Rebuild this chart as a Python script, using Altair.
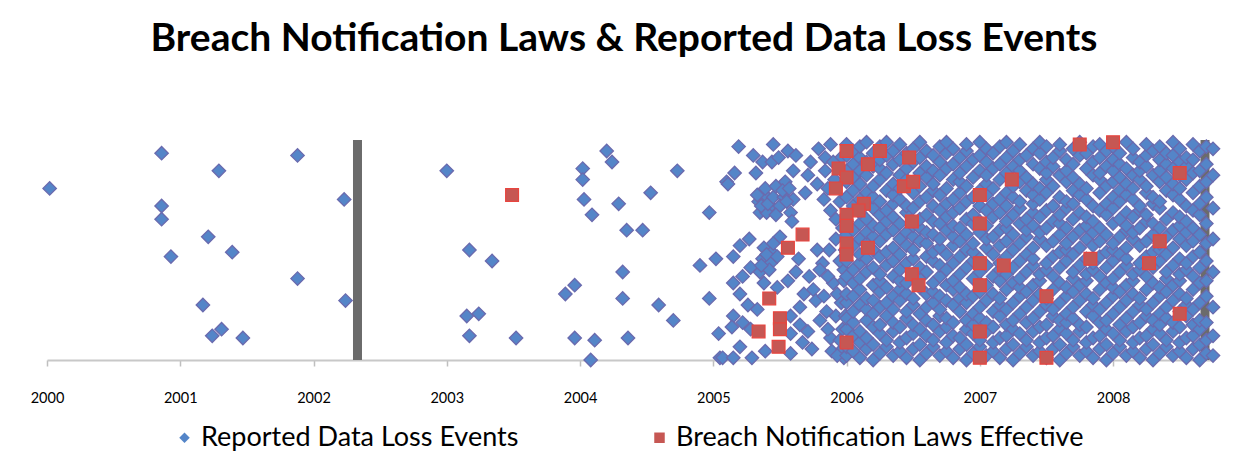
import altair as alt
import pandas as pd

TITLE = "Breach Notification Laws & Reported Data Loss Events"
SERIES = ["Reported Data Loss Events", "Breach Notification Laws Effective"]
YEAR_TICKS = [2000, 2001, 2002, 2003, 2004, 2005, 2006, 2007, 2008]

# Reported data loss events, 2000-2005 (year, relative height 0-100)
early_events = [
    (2000.02, 78), (2000.86, 94), (2001.88, 93), (2001.29, 86), (2002.23, 73),
    (2000.86, 70), (2000.86, 64), (2001.21, 56), (2001.39, 49), (2000.93, 47),
    (2001.88, 37), (2001.17, 25), (2002.24, 27), (2001.31, 14), (2001.24, 11),
    (2001.47, 10),
    (2003.00, 86), (2004.02, 87), (2004.02, 82), (2004.20, 95), (2004.24, 90),
    (2004.73, 86), (2004.03, 73), (2004.09, 66), (2004.29, 71), (2004.53, 76),
    (2004.35, 59), (2004.47, 59), (2004.97, 67), (2003.17, 50), (2003.34, 45),
    (2004.32, 40), (2004.90, 43), (2005.02, 46), (2003.96, 34), (2003.89, 30),
    (2004.32, 28), (2004.97, 28), (2004.59, 25), (2004.70, 18), (2003.15, 20),
    (2003.24, 21), (2003.17, 11), (2003.52, 10), (2003.96, 10), (2004.11, 9),
    (2004.36, 10), (2004.08, 0), (2005.04, 12), (2005.05, 1), (2005.10, 81),
]

# Reported data loss events during 2005
events_2005 = [
    (2005.19, 97), (2005.30, 93), (2005.37, 90), (2005.44, 90), (2005.16, 85),
    (2005.32, 85), (2005.11, 80), (2005.37, 76), (2005.40, 74), (2005.34, 72),
    (2005.43, 70), (2005.35, 67), (2005.40, 67), (2005.27, 55), (2005.20, 52),
    (2005.15, 47), (2005.38, 51), (2005.44, 49), (2005.37, 46), (2005.28, 42),
    (2005.43, 44), (2005.35, 40), (2005.22, 38), (2005.38, 35), (2005.15, 35),
    (2005.20, 30), (2005.26, 25), (2005.33, 23), (2005.15, 20), (2005.22, 17),
    (2005.14, 15), (2005.28, 14), (2005.20, 6), (2005.07, 1), (2005.15, 1),
    (2005.29, 1), (2005.39, 4), (2005.36, 70), (2005.41, 71), (2005.39, 78),
    (2005.33, 75), (2005.40, 48), (2005.42, 41), (2005.36, 43),
    (2005.45, 98), (2005.56, 95), (2005.62, 93), (2005.49, 92), (2005.79, 96),
    (2005.88, 98), (2005.84, 92), (2005.73, 90), (2005.60, 86), (2005.54, 81),
    (2005.84, 86), (2005.71, 84), (2005.78, 80), (2005.69, 76), (2005.45, 74),
    (2005.53, 74), (2005.60, 73), (2005.83, 73), (2005.88, 68), (2005.58, 67),
    (2005.59, 63), (2005.92, 64), (2005.50, 56), (2005.92, 55), (2005.45, 53),
    (2005.48, 47), (2005.64, 46), (2005.82, 44), (2005.80, 41), (2005.98, 41),
    (2005.56, 36), (2005.48, 33), (2005.75, 32), (2005.90, 35), (2005.93, 30),
    (2005.77, 27), (2005.83, 29), (2005.65, 24), (2005.58, 20), (2005.80, 18),
    (2005.92, 20), (2005.65, 16), (2005.71, 13), (2005.58, 12), (2005.97, 14),
    (2005.88, 10), (2005.74, 5), (2005.58, 3), (2005.89, 4), (2005.97, 5),
    (2005.67, 8), (2005.47, 79), (2005.50, 70), (2005.52, 77), (2005.55, 72),
    (2005.47, 66), (2005.57, 78), (2005.96, 92), (2005.98, 85), (2005.95, 72),
    (2005.97, 60), (2005.99, 50), (2005.95, 45), (2005.98, 36), (2005.96, 26),
    (2005.99, 20), (2005.95, 9), (2005.98, 1), (2005.90, 90), (2005.91, 82),
    (2005.86, 78), (2005.87, 50), (2005.86, 38), (2005.85, 22), (2005.86, 14),
    (2005.93, 2), (2005.78, 50), (2005.72, 38), (2005.68, 30), (2005.62, 40),
]

# Reported data loss events 2006 - late 2008, by date column (heights 0-100)
events_2006_on = {
    2006.00: [2, 6, 14, 19, 26, 30, 38, 45, 49, 57, 63, 66, 74, 81, 86, 93, 98],
    2006.05: [4, 11, 17, 22, 29, 35, 41, 52, 59, 70, 77, 83, 89, 95],
    2006.10: [1, 8, 13, 25, 32, 37, 44, 48, 55, 62, 67, 73, 80, 86, 92, 97],
    2006.15: [5, 10, 18, 23, 28, 40, 46, 53, 58, 64, 71, 76, 84, 90, 99],
    2006.20: [0, 7, 15, 21, 27, 34, 42, 50, 56, 61, 69, 74, 79, 88, 94],
    2006.25: [3, 12, 16, 24, 31, 36, 39, 47, 54, 60, 66, 72, 82, 87, 91, 97],
    2006.30: [6, 9, 20, 26, 33, 43, 49, 57, 63, 68, 77, 85, 93, 99],
    2006.35: [2, 13, 17, 23, 29, 38, 45, 51, 59, 65, 71, 75, 80, 89, 95],
    2006.40: [4, 8, 15, 27, 32, 36, 41, 48, 55, 62, 73, 78, 84, 91, 98],
    2006.45: [1, 10, 19, 22, 30, 35, 44, 52, 58, 67, 70, 82, 87, 94],
    2006.50: [5, 12, 16, 25, 28, 39, 46, 50, 56, 61, 69, 76, 81, 90, 96],
    2006.55: [0, 7, 14, 21, 33, 37, 42, 54, 60, 64, 72, 79, 85, 92, 99],
    2006.60: [3, 11, 18, 24, 30, 40, 47, 53, 58, 66, 74, 83, 88, 95],
    2006.65: [6, 9, 16, 26, 31, 35, 45, 49, 57, 63, 70, 77, 80, 86, 93],
    2006.70: [2, 13, 20, 23, 29, 38, 43, 51, 55, 62, 68, 75, 84, 90, 97],
    2006.75: [4, 8, 15, 19, 27, 34, 41, 48, 59, 65, 71, 78, 87, 94, 99],
    2006.80: [1, 11, 17, 25, 32, 36, 44, 52, 56, 61, 67, 73, 82, 89, 96],
    2006.85: [5, 10, 22, 28, 33, 39, 47, 54, 60, 69, 76, 81, 85, 92],
    2006.90: [0, 7, 14, 18, 26, 30, 42, 50, 57, 64, 72, 79, 88, 95, 98],
    2006.95: [3, 12, 16, 21, 29, 37, 45, 49, 53, 62, 66, 74, 83, 91],
    2007.00: [6, 9, 19, 24, 31, 35, 40, 46, 58, 63, 70, 77, 86, 93, 99],
    2007.05: [2, 13, 17, 27, 34, 43, 51, 55, 61, 68, 75, 80, 84, 90, 96],
    2007.10: [4, 8, 15, 22, 30, 38, 48, 56, 65, 71, 78, 87, 94],
    2007.15: [1, 10, 20, 25, 28, 36, 41, 44, 52, 59, 67, 73, 82, 89, 97],
    2007.20: [5, 11, 16, 23, 32, 39, 47, 54, 60, 63, 70, 76, 85, 92, 99],
    2007.25: [0, 7, 14, 18, 26, 35, 42, 50, 57, 66, 74, 79, 88, 95],
    2007.30: [3, 12, 21, 29, 33, 37, 45, 53, 62, 69, 72, 81, 86, 91, 98],
    2007.35: [6, 9, 17, 24, 31, 40, 48, 56, 59, 64, 77, 83, 93],
    2007.40: [2, 13, 19, 27, 34, 43, 46, 51, 61, 67, 71, 75, 80, 89, 96],
    2007.45: [4, 8, 15, 22, 30, 36, 39, 55, 58, 65, 73, 78, 87, 94, 99],
    2007.50: [1, 10, 16, 25, 28, 41, 44, 52, 60, 68, 76, 82, 85, 90, 97],
    2007.55: [5, 11, 20, 23, 32, 38, 47, 54, 63, 70, 79, 88, 92],
    2007.60: [0, 7, 14, 18, 26, 35, 42, 49, 57, 62, 66, 74, 84, 95, 98],
    2007.65: [3, 12, 17, 21, 29, 33, 45, 50, 53, 60, 69, 72, 81, 86, 91],
    2007.70: [6, 9, 19, 24, 31, 37, 40, 48, 56, 64, 71, 77, 83, 89, 96],
    2007.75: [2, 13, 16, 27, 34, 43, 51, 59, 67, 75, 80, 93, 99],
    2007.80: [4, 8, 15, 22, 30, 36, 39, 46, 55, 61, 65, 73, 78, 87, 94],
    2007.85: [1, 10, 20, 25, 28, 41, 44, 52, 58, 63, 70, 84, 90, 97],
    2007.90: [5, 11, 17, 23, 32, 38, 47, 54, 60, 68, 76, 82, 85, 92, 98],
    2007.95: [0, 7, 14, 18, 26, 35, 42, 49, 57, 66, 71, 79, 88, 95],
    2008.00: [3, 12, 21, 29, 33, 37, 45, 50, 53, 62, 69, 74, 81, 86, 91, 97],
    2008.05: [6, 9, 16, 24, 31, 40, 48, 56, 64, 72, 77, 83, 89, 94],
    2008.10: [2, 13, 19, 27, 34, 43, 46, 51, 59, 61, 67, 75, 80, 87, 99],
    2008.15: [4, 8, 15, 22, 30, 36, 39, 55, 58, 65, 73, 78, 84, 92, 96],
    2008.20: [1, 10, 17, 25, 28, 41, 44, 52, 60, 68, 70, 82, 86, 90],
    2008.25: [5, 11, 20, 23, 32, 38, 47, 54, 63, 66, 76, 79, 88, 93, 98],
    2008.30: [0, 7, 14, 18, 26, 35, 42, 49, 57, 62, 71, 74, 84, 95],
    2008.35: [3, 12, 16, 21, 29, 33, 45, 50, 53, 60, 69, 72, 81, 86, 91, 97],
    2008.40: [6, 9, 19, 24, 31, 37, 40, 48, 56, 64, 77, 83, 89, 94],
    2008.45: [2, 13, 17, 27, 34, 43, 51, 59, 67, 75, 80, 87, 93, 99],
    2008.50: [4, 8, 15, 22, 30, 36, 39, 46, 55, 61, 65, 73, 78, 84, 90, 96],
    2008.55: [1, 10, 20, 25, 28, 41, 44, 52, 58, 63, 70, 82, 88, 92],
    2008.60: [5, 11, 16, 23, 32, 38, 47, 54, 60, 68, 76, 85, 91, 98],
    2008.65: [0, 7, 14, 18, 26, 35, 42, 49, 57, 66, 71, 79, 86, 95],
    2008.70: [3, 9, 17, 29, 36, 45, 53, 62, 74, 81, 89, 97],
    2008.75: [2, 11, 24, 40, 55, 69, 84, 96],
}

# Breach notification laws effective (year, relative height 0-100)
laws_effective = [
    (2003.49, 75),
    (2006.00, 95), (2006.25, 95), (2006.47, 92), (2006.16, 89), (2005.94, 87),
    (2006.00, 83), (2005.92, 78), (2006.43, 79), (2006.50, 81), (2006.13, 71),
    (2006.09, 68), (2006.00, 66), (2006.00, 61), (2006.49, 63), (2005.67, 57),
    (2005.56, 51), (2006.00, 53), (2006.00, 48), (2006.16, 51), (2006.49, 39),
    (2006.54, 34), (2005.42, 28), (2005.50, 19), (2005.50, 14), (2005.34, 13),
    (2005.49, 6), (2006.00, 8),
    (2007.75, 98), (2008.00, 99), (2008.50, 85), (2007.24, 82), (2007.00, 75),
    (2007.00, 62), (2008.35, 54), (2007.83, 46), (2008.27, 44), (2007.00, 44),
    (2007.18, 43), (2007.00, 34), (2007.50, 29), (2008.50, 21), (2007.00, 13),
    (2007.00, 1), (2007.50, 1),
]

# Grey marker columns
marker_years = [2002.33, 2008.69]
marker_heights = [100, 100]

rows = [(x, y) for x, y in early_events] + [(x, y) for x, y in events_2005]
for x, ys in events_2006_on.items():
    rows += [(x, y) for y in ys]
blue_df = pd.DataFrame(rows, columns=["year", "value"])
blue_df["series"] = SERIES[0]
red_df = pd.DataFrame(laws_effective, columns=["year", "value"])
red_df["series"] = SERIES[1]
bar_df = pd.DataFrame({"year": marker_years, "value": marker_heights, "base": [0, 0]})

FONT = "Lato"

x_enc = alt.X(
    "year:Q",
    scale=alt.Scale(domain=[2000, 2008.75], nice=False, zero=False, padding=0),
    axis=alt.Axis(
        values=YEAR_TICKS, format="d", title=None, grid=False,
        labelFont=FONT, labelFontSize=14.5, labelColor="#000000",
        labelFlush=False, labelOverlap=False,
        tickColor="#BFBFBF", tickSize=6, tickWidth=1.5,
        domainColor="#C8C8C8", domainWidth=2, labelPadding=25,
    ),
)
y_enc = alt.Y("value:Q", scale=alt.Scale(domain=[0, 100], nice=False, zero=True, padding=0), axis=None)

legend = alt.Legend(
    title=None, orient="none", direction="horizontal",
    legendX=124, legendY=284, labelFont=FONT, labelFontSize=27,
    labelColor="#000000", symbolSize=110, columnPadding=127, labelOffset=3,
    padding=0, symbolStrokeWidth=0, labelLimit=0,
)
color_enc = alt.Color("series:N", scale=alt.Scale(domain=SERIES, range=["#5485C8", "#C65753"]), legend=legend)
shape_enc = alt.Shape("series:N", scale=alt.Scale(domain=SERIES, range=["diamond", "square"]), legend=legend)

bars = alt.Chart(bar_df).mark_rule(strokeWidth=9, color="#6B6B6B").encode(
    x=x_enc, y=y_enc, y2="base:Q"
)

blue = alt.Chart(blue_df).mark_point(
    filled=True, size=180, stroke="#6A6AAE", strokeWidth=1.3, opacity=1
).encode(x=x_enc, y=y_enc, color=color_enc, shape=shape_enc)

red = alt.Chart(red_df).mark_point(
    filled=True, size=165, stroke="#E8453F", strokeWidth=1.2, opacity=1
).encode(x=x_enc, y=y_enc, color=color_enc, shape=shape_enc)

chart = (
    alt.layer(bars, blue, red)
    .properties(
        width=1166, height=220,
        padding={"left": 39, "top": 132, "right": 26, "bottom": 95},
        autosize=alt.AutoSizeParams(type="none"),
        background="white",
        title=alt.TitleParams(
            TITLE, font=FONT, fontSize=39, fontWeight="bold", color="#000000",
            anchor="middle", baseline="alphabetic", offset=43, dx=-6,
        ),
    )
    .configure_view(stroke="transparent", strokeWidth=0)
)

chart.save("out.html", embed_options={"renderer": "svg", "actions": False})
